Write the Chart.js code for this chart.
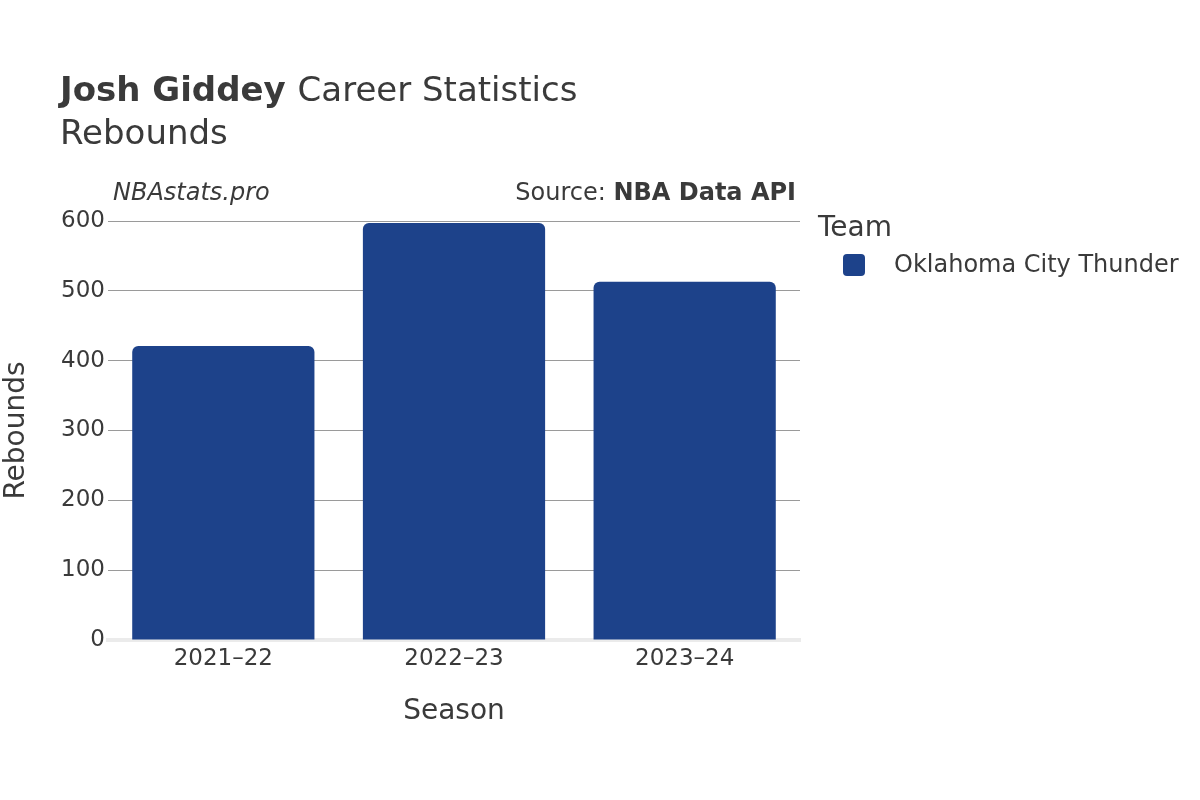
<!DOCTYPE html>
<html>
<head>
<meta charset="utf-8">
<script src="https://cdn.jsdelivr.net/npm/chart.js@4.4.0/dist/chart.umd.min.js"></script>
<style>
  html, body { margin: 0; padding: 0; background: #fff; }
  #wrap { width: 1200px; height: 800px; position: relative; }
</style>
</head>
<body>
<div id="wrap"><canvas id="Chart1" width="1200" height="800"></canvas></div>
<script>
// =========== data
const seasons = ["2021–22", "2022–23", "2023–24"];
const rebounds = [421, 597, 513];
const yTicks = [0, 100, 200, 300, 400, 500, 600];
const teamName = "Oklahoma City Thunder";
const teamColor = "#1d428a";

const FONT = "'DejaVu Sans', sans-serif";
const TEXT = "#3a3a3a";

// header, source line and legend drawn on the canvas
const headerPlugin = {
    id: "header",
    afterDraw(chart) {
        const c = chart.ctx;
        c.save();
        c.fillStyle = TEXT;
        c.textBaseline = "alphabetic";
        c.textAlign = "left";

        c.font = "bold 34px " + FONT;
        c.fillText("Josh Giddey", 60, 101);
        const w = c.measureText("Josh Giddey ").width;
        c.font = "34px " + FONT;
        c.fillText("Career Statistics", 60 + w, 101);
        c.fillText("Rebounds", 60, 144);

        c.font = "italic 24px " + FONT;
        c.fillText("NBAstats.pro", 113, 200);

        c.textAlign = "right";
        c.font = "bold 24px " + FONT;
        c.fillText("NBA Data API", 796, 200);
        const bw = c.measureText("NBA Data API").width;
        c.font = "24px " + FONT;
        c.fillText("Source: ", 796 - bw, 200);

        // legend
        c.textAlign = "left";
        c.font = "28px " + FONT;
        c.fillText("Team", 818, 236);
        c.fillStyle = teamColor;
        c.beginPath();
        c.roundRect(843, 254, 22, 22, 4);
        c.fill();
        c.fillStyle = TEXT;
        c.font = "24px " + FONT;
        c.textBaseline = "middle";
        c.fillText(teamName, 894, 266);
        c.restore();
    },
};

const ctx1 = document.getElementById("Chart1").getContext("2d");
const chart1 = new Chart(ctx1, {
    type: "bar",
    data: {
        labels: seasons,
        datasets: [
            {
                label: teamName,
                data: rebounds,
                backgroundColor: teamColor,
                borderRadius: { topLeft: 6, topRight: 6, bottomLeft: 0, bottomRight: 0 },
                borderSkipped: "start",
                categoryPercentage: 1,
                barPercentage: 0.79,
            },
        ],
    },
    options: {
        responsive: false,
        animation: false,
        layout: {
            padding: { top: 221, right: 400, bottom: 60, left: 0 },
        },
        plugins: {
            legend: { display: false },
            title: { display: false },
            tooltip: { enabled: false },
        },
        scales: {
            y: {
                min: 0,
                max: 600,
                afterFit: (scale) => { scale.width = 108; },
                afterBuildTicks: (scale) => {
                    scale.ticks = yTicks.map((v) => ({ value: v }));
                },
                border: { display: false },
                grid: {
                    drawTicks: false,
                    color: (c) => (c.tick && c.tick.value === 0 ? "transparent" : "#9a9a9a"),
                    lineWidth: 1,
                },
                ticks: {
                    padding: 3,
                    color: TEXT,
                    font: { family: FONT, size: 23 },
                },
                title: {
                    display: true,
                    text: "Rebounds",
                    color: TEXT,
                    font: { family: FONT, size: 28 },
                    padding: { top: 0, bottom: 0 },
                },
            },
            x: {
                afterFit: (scale) => { scale.height = 100; },
                border: { display: true, color: "#ebebeb", width: 4 },
                grid: { display: false, drawTicks: false },
                ticks: {
                    padding: 5,
                    color: TEXT,
                    font: { family: FONT, size: 23 },
                },
                title: {
                    display: true,
                    text: "Season",
                    color: TEXT,
                    font: { family: FONT, size: 28 },
                    padding: { top: 0, bottom: 11 },
                },
            },
        },
    },
    plugins: [headerPlugin],
});
</script>
</body>
</html>
